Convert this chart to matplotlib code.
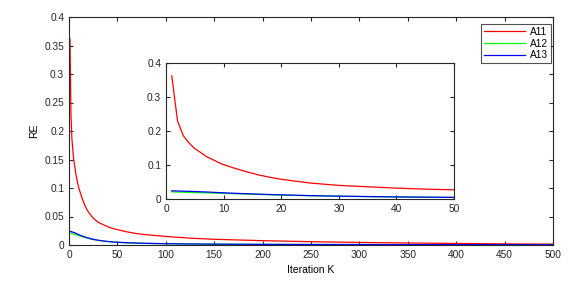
import matplotlib
matplotlib.use("Agg")
import matplotlib.pyplot as plt

plt.rcParams['font.family'] = ['Liberation Sans', 'DejaVu Sans']

K = [1, 2, 3, 4, 5, 6, 7, 8, 9, 10, 12, 14, 16, 18, 20, 25, 30, 35, 40, 45, 50,
     60, 70, 80, 90, 100, 125, 150, 175, 200, 250, 300, 350, 400, 450, 500]
A11 = [0.362, 0.230, 0.186, 0.165, 0.148, 0.137, 0.125, 0.117, 0.108, 0.101,
       0.090, 0.080, 0.071, 0.064, 0.058, 0.047, 0.040, 0.036, 0.032, 0.029, 0.027,
       0.023, 0.020, 0.018, 0.0165, 0.015, 0.012, 0.010, 0.0088, 0.0076,
       0.0058, 0.0045, 0.0035, 0.0027, 0.0020, 0.0015]
A12 = [0.021, 0.0205, 0.020, 0.0195, 0.019, 0.0185, 0.018, 0.0175, 0.017, 0.0165,
       0.0155, 0.0145, 0.0135, 0.0125, 0.0115, 0.0095, 0.008, 0.007, 0.006, 0.0052, 0.0046,
       0.0038, 0.0032, 0.0028, 0.0025, 0.0022, 0.0018, 0.0015, 0.0013, 0.0011,
       0.0009, 0.0008, 0.0007, 0.0006, 0.0005, 0.0005]
A13 = [0.024, 0.0235, 0.023, 0.0225, 0.022, 0.0213, 0.0206, 0.0198, 0.019, 0.0182,
       0.0168, 0.0155, 0.0143, 0.0132, 0.0122, 0.0100, 0.0084, 0.0072, 0.0062, 0.0054, 0.0048,
       0.0040, 0.0034, 0.0029, 0.0026, 0.0023, 0.0018, 0.0015, 0.0013, 0.0011,
       0.0009, 0.0008, 0.0007, 0.0006, 0.0005, 0.0005]
labels = ['A11', 'A12', 'A13']
colors = ['#ff0000', '#00ff00', '#0000ff']

W, H = 586, 284
fig = plt.figure(figsize=(W/100, H/100), dpi=100)
ax = fig.add_axes([69/W, 1-245/H, (553-69)/W, (245-17)/H])

axc = '#262626'
def style(a):
    for s in a.spines.values():
        s.set_color(axc)
        s.set_linewidth(0.8)
    a.tick_params(direction='in', top=True, right=True, labelsize=7.3, colors=axc,
                  length=3, width=0.8, pad=3.5)

for y, lab, c in zip([A11, A12, A13], labels, colors):
    ax.plot(K, y, color=c, lw=0.9, label=lab)
ax.set_xlim(0, 500)
ax.set_ylim(0, 0.4)
ax.set_xticks(range(0, 501, 50))
ax.set_yticks([0, 0.05, 0.1, 0.15, 0.2, 0.25, 0.3, 0.35, 0.4])
ax.set_yticklabels(['0', '0.05', '0.1', '0.15', '0.2', '0.25', '0.3', '0.35', '0.4'])
style(ax)
ax.set_xlabel('Iteration K', fontsize=7.5, labelpad=4)
ax.set_ylabel('RE', fontsize=7.5, labelpad=4)
leg = ax.legend(loc='upper right', fontsize=7.3, frameon=True, fancybox=False,
                edgecolor=axc, handlelength=4.0, borderpad=0.3, labelspacing=0.15,
                handletextpad=0.5, borderaxespad=0,
                bbox_to_anchor=(551/W, 1-24/H), bbox_transform=fig.transFigure)
leg.get_frame().set_linewidth(0.8)

ins = fig.add_axes([166/W, 1-199/H, (454-166)/W, (199-63)/H])
n50 = K.index(50) + 1
for y, c in zip([A11, A12, A13], colors):
    ins.plot(K[:n50], y[:n50], color=c, lw=0.9)
ins.set_xlim(0, 50)
ins.set_ylim(0, 0.4)
ins.set_xticks([0, 10, 20, 30, 40, 50])
ins.set_yticks([0, 0.1, 0.2, 0.3, 0.4])
ins.set_yticklabels(['0', '0.1', '0.2', '0.3', '0.4'])
style(ins)

fig.savefig('out.png', dpi=100)
